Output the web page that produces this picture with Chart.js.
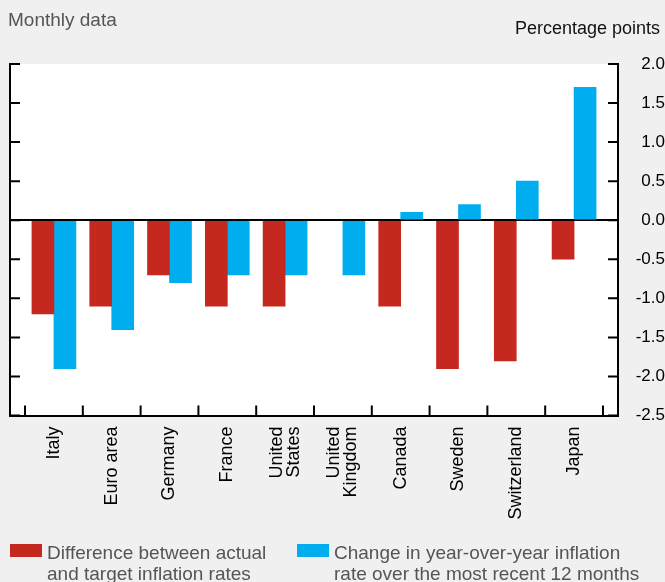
<!DOCTYPE html>
<html>
<head>
<meta charset="utf-8">
<script src="https://cdn.jsdelivr.net/npm/chart.js@4.4.1/dist/chart.umd.min.js"></script>
<style>
  html, body { margin: 0; padding: 0; background: #f0f0f0; }
  #wrap { position: relative; width: 665px; height: 582px; background: #f0f0f0; font-family: 'Liberation Sans', Arial, Helvetica, sans-serif; }
  #chart-box { position: absolute; left: 0; top: 0; width: 665px; height: 582px; }
  .note { position: absolute; left: 8px; top: 10px; font-size: 19px; line-height: 19px; color: #555; }
  .unit { position: absolute; right: 5px; top: 19px; font-size: 18px; line-height: 18px; color: #111; }
  .legend-item { position: absolute; top: 542px; font-size: 19px; line-height: 21px; color: #555; }
  .legend-item .swatch { position: absolute; left: 0; top: 2px; width: 32px; height: 13px; }
  .legend-item .txt { margin-left: 37px; white-space: nowrap; }
</style>
</head>
<body>
<div id="wrap">
  <div id="chart-box"><canvas id="chart"></canvas></div>
  <div class="note">Monthly data</div>
  <div class="unit">Percentage points</div>
  <div id="legend"></div>
</div>
<script>
const CATEGORIES = [['Italy'], ['Euro area'], ['Germany'], ['France'], ['United', 'States'],
  ['United', 'Kingdom'], ['Canada'], ['Sweden'], ['Switzerland'], ['Japan']];
const GAP_TO_TARGET = [-1.2, -1.1, -0.7, -1.1, -1.1, null, -1.1, -1.9, -1.8, -0.5];
const CHANGE_12M = [-1.9, -1.4, -0.8, -0.7, -0.7, -0.7, 0.1, 0.2, 0.5, 1.7];
const SERIES_NAMES = [
  ['Difference between actual', 'and target inflation rates'],
  ['Change in year-over-year inflation', 'rate over the most recent 12 months'],
];
const SERIES_COLORS = ['#c4281f', '#00aeef'];
const Y_MIN = -2.5;
const Y_MAX = 2.0;
const Y_STEP = 0.5;

const TICK_LEN = 10;
const LABEL_LINE = 17;

Chart.defaults.font.family = "'Liberation Sans', Arial, Helvetica, sans-serif";

const toPoints = (vals) => vals.map((v, i) => ({ x: i, y: v }));

// white plot area
const plotBg = {
  id: 'plotBg',
  beforeDraw(chart) {
    const { ctx, chartArea: a } = chart;
    ctx.save();
    ctx.fillStyle = '#fff';
    ctx.fillRect(a.left, a.top, a.right - a.left, a.bottom - a.top);
    ctx.restore();
  },
};

// short tick marks pointing into the plot
const innerTicks = {
  id: 'innerTicks',
  afterDatasetsDraw(chart) {
    const { ctx, chartArea: a, scales } = chart;
    ctx.save();
    ctx.strokeStyle = '#000';
    ctx.lineWidth = 2;
    ctx.beginPath();
    scales.y.ticks.forEach((t) => {
      const py = scales.y.getPixelForValue(t.value);
      ctx.moveTo(a.left, py); ctx.lineTo(a.left + TICK_LEN, py);
      ctx.moveTo(a.right - TICK_LEN, py); ctx.lineTo(a.right, py);
    });
    for (let i = 0; i <= CATEGORIES.length; i++) {
      const px = scales.x.getPixelForValue(i - 0.5);
      ctx.moveTo(px, a.bottom); ctx.lineTo(px, a.bottom - TICK_LEN);
    }
    ctx.stroke();
    ctx.restore();
  },
};

const chart = new Chart(document.getElementById('chart'), {
  type: 'bar',
  data: {
    datasets: [
      { label: SERIES_NAMES[0].join(' '), data: toPoints(GAP_TO_TARGET), backgroundColor: SERIES_COLORS[0] },
      { label: SERIES_NAMES[1].join(' '), data: toPoints(CHANGE_12M), backgroundColor: SERIES_COLORS[1] },
    ],
  },
  options: {
    responsive: true,
    maintainAspectRatio: false,
    animation: false,
    barThickness: 22,
    layout: { padding: { left: 10, right: 0, top: 64, bottom: 46.5 } },
    plugins: { legend: { display: false }, tooltip: { enabled: false } },
    scales: {
      x: {
        type: 'linear',
        position: 'bottom',
        min: -0.76,
        max: CATEGORIES.length - 1 + 0.76,
        offset: false,
        // two-line labels are shifted so that the pair of lines sits centred on the category
        afterBuildTicks: (scale) => {
          scale.ticks = CATEGORIES.map((c, i) => ({ value: i - (c.length - 1) * 0.147 }));
        },
        afterFit: (scale) => { scale.height = 120; },
        grid: { display: true, drawOnChartArea: false, drawTicks: false },
        border: { color: '#000', width: 2 },
        ticks: {
          autoSkip: false,
          minRotation: 90,
          maxRotation: 90,
          padding: 11,
          color: '#000',
          font: { size: 18, lineHeight: LABEL_LINE / 18 },
          callback: (v, i) => CATEGORIES[i],
        },
      },
      y: {
        position: 'left',
        min: Y_MIN,
        max: Y_MAX,
        ticks: { stepSize: Y_STEP, display: false },
        afterFit: (scale) => { scale.width = 0; },
        grid: {
          drawTicks: false,
          color: (c) => (c.tick && c.tick.value === 0 ? '#000' : 'rgba(0,0,0,0)'),
          lineWidth: (c) => (c.tick && c.tick.value === 0 ? 2 : 0),
        },
        border: { color: '#000', width: 2 },
      },
      y2: {
        position: 'right',
        min: Y_MIN,
        max: Y_MAX,
        afterFit: (scale) => { scale.width = 47; },
        grid: { display: true, drawOnChartArea: false, drawTicks: false },
        border: { color: '#000', width: 2 },
        ticks: {
          stepSize: Y_STEP,
          crossAlign: 'far',
          padding: 11,
          color: '#000',
          font: { size: 17 },
          callback: (v) => Number(v).toFixed(1),
        },
      },
    },
  },
  plugins: [plotBg, innerTicks],
});

// legend below the chart, built from the datasets
const legendLeft = [10, 297];
document.getElementById('legend').innerHTML = chart.data.datasets.map((ds, i) => `
  <div class="legend-item" style="left:${legendLeft[i]}px">
    <span class="swatch" style="background:${ds.backgroundColor}"></span>
    <div class="txt">${SERIES_NAMES[i].join('<br>')}</div>
  </div>`).join('');
</script>
</body>
</html>
